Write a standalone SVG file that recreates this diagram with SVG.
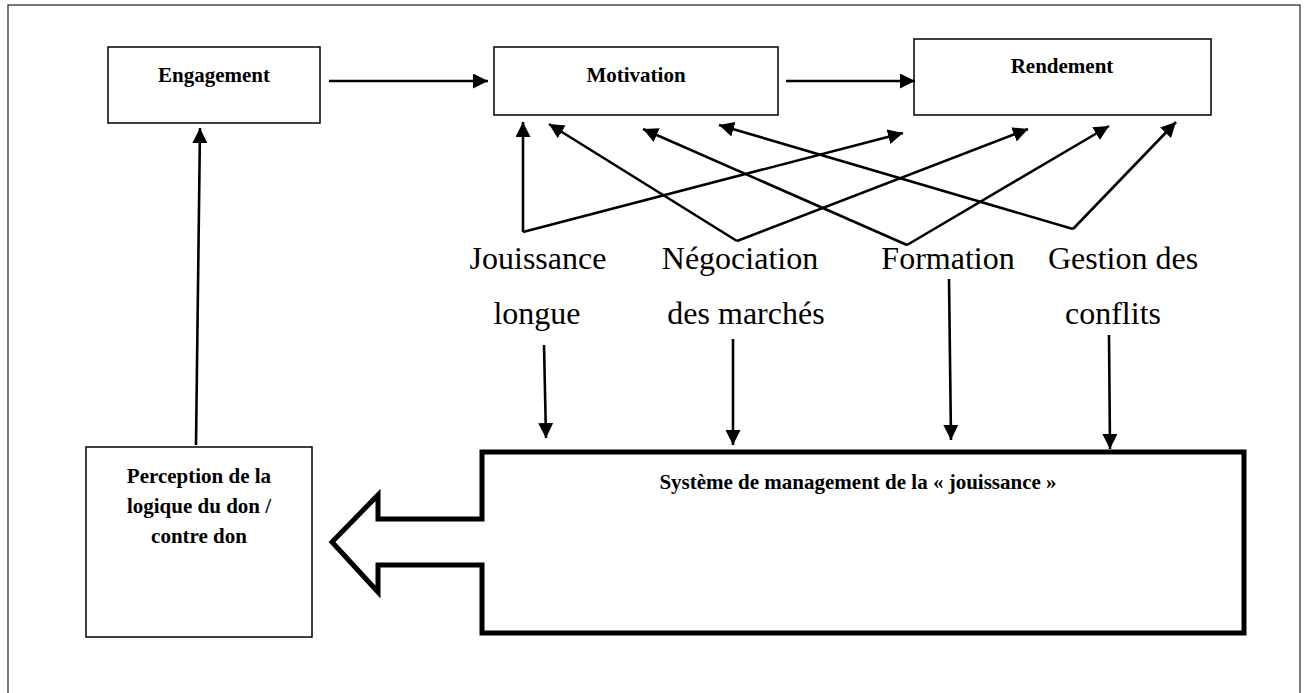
<svg xmlns="http://www.w3.org/2000/svg" width="1309" height="693" viewBox="0 0 1309 693">
<style>
.box{fill:#fff;stroke:#000;stroke-width:1.5}
.bt{font-family:"Liberation Serif",serif;font-weight:bold;font-size:21px;fill:#000;text-anchor:middle}
.lt{font-family:"Liberation Serif",serif;font-size:32px;fill:#000;text-anchor:middle}
.c{fill:none;stroke:#000;stroke-width:2.6;marker-end:url(#ah)}
.p{fill:none;stroke:#000;stroke-width:2.6}
</style>
<defs>
<marker id="ah" markerUnits="userSpaceOnUse" markerWidth="16" markerHeight="16" viewBox="0 0 16 16" refX="15" refY="7.5" orient="auto">
<path d="M0,0 L15,7.5 L0,15 z" fill="#000"/>
</marker>
</defs>
<rect width="1309" height="693" fill="#fff"/>
<rect x="8" y="5" width="1292" height="700" fill="none" stroke="#222" stroke-width="1.2"/>

<g id="engagement">
<rect class="box" x="108" y="47" width="212" height="76"/>
<text class="bt" x="214" y="82">Engagement</text>
</g>
<g id="motivation">
<rect class="box" x="494" y="47" width="284" height="68"/>
<text class="bt" x="636" y="82">Motivation</text>
</g>
<g id="rendement">
<rect class="box" x="914" y="39" width="297" height="76"/>
<text class="bt" x="1062" y="73">Rendement</text>
</g>
<g id="perception">
<rect class="box" x="86" y="447" width="226" height="190"/>
<text class="bt" x="199" y="483">Perception de la</text>
<text class="bt" x="199" y="513">logique du don /</text>
<text class="bt" x="199" y="543">contre don</text>
</g>
<g id="systeme">
<path d="M482,452 L1244,452 L1244,633 L482,633 L482,565 L378,565 L378,592 L332,542 L378,495 L378,519 L482,519 Z" fill="#fff" stroke="#000" stroke-width="5" stroke-linejoin="miter"/>
<text class="bt" x="858" y="489">Système de management de la « jouissance »</text>
</g>
<g id="labels">
<g id="jouissance"><text class="lt" x="538" y="269">Jouissance</text><text class="lt" x="537" y="324">longue</text></g>
<g id="negociation"><text class="lt" x="740" y="269">Négociation</text><text class="lt" x="746" y="324">des marchés</text></g>
<g id="formation"><text class="lt" x="948" y="269">Formation</text></g>
<g id="gestion"><text class="lt" x="1123" y="269">Gestion des</text><text class="lt" x="1113" y="324">conflits</text></g>
</g>
<g id="connectors">
<line class="c" x1="329" y1="81" x2="488" y2="81"/>
<line class="c" x1="786" y1="81" x2="915" y2="81"/>
<line class="c" x1="196" y1="445" x2="200" y2="128"/>
<line class="c" x1="523" y1="232" x2="523" y2="122"/>
<line class="c" x1="523" y1="232" x2="903" y2="133"/>
<line class="c" x1="737" y1="241" x2="549" y2="124"/>
<line class="c" x1="737" y1="241" x2="1028" y2="129"/>
<line class="c" x1="907" y1="245" x2="643" y2="129"/>
<line class="c" x1="907" y1="245" x2="1109" y2="126"/>
<line class="c" x1="1073" y1="229" x2="719" y2="125"/>
<line class="c" x1="1073" y1="229" x2="1176" y2="122"/>
<line class="c" x1="544" y1="345" x2="546" y2="438"/>
<line class="c" x1="733" y1="339" x2="733" y2="445"/>
<line class="c" x1="949" y1="279" x2="951" y2="440"/>
<line class="c" x1="1109" y1="335" x2="1110" y2="449"/>
</g>
</svg>
